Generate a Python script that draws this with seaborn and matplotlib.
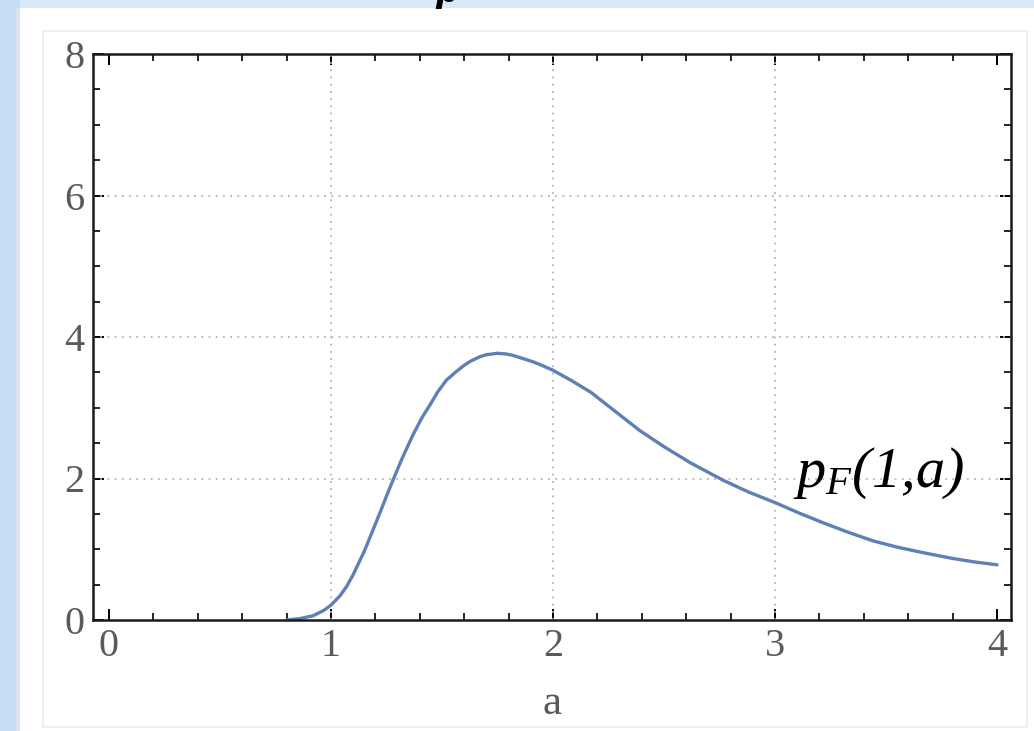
import numpy as np
import pandas as pd
import seaborn as sns
import matplotlib
matplotlib.use("Agg")
import matplotlib.pyplot as plt
from matplotlib.patches import Rectangle
from matplotlib.ticker import MultipleLocator

# ---- data ----
a_vals = [0.80, 0.86, 0.92, 0.97, 1.00, 1.04, 1.07, 1.10, 1.15, 1.18, 1.22, 1.25, 1.28,
          1.32, 1.37, 1.41, 1.45, 1.48, 1.52, 1.56, 1.60, 1.63, 1.67, 1.70, 1.75,
          1.79, 1.82, 1.86, 1.91, 1.95, 2.00, 2.08, 2.17, 2.28, 2.39, 2.50,
          2.62, 2.77, 2.88, 3.00, 3.11, 3.22, 3.33, 3.44, 3.55, 3.67, 3.80, 3.90, 4.00]
p_vals = [0.00, 0.02, 0.06, 0.14, 0.21, 0.34, 0.47, 0.64, 0.97, 1.20, 1.51, 1.75, 1.98,
          2.28, 2.62, 2.86, 3.06, 3.22, 3.39, 3.50, 3.60, 3.66, 3.72, 3.75, 3.77,
          3.76, 3.74, 3.70, 3.65, 3.60, 3.53, 3.39, 3.22, 2.95, 2.68, 2.45,
          2.22, 1.97, 1.81, 1.66, 1.51, 1.37, 1.24, 1.12, 1.03, 0.95, 0.87, 0.82, 0.78]
x_ticks = [0, 1, 2, 3, 4]
y_ticks = [0, 2, 4, 6, 8]
grid_x = [1, 2, 3]
grid_y = [2, 4, 6]
curve_label = r"$p_F(1{,}a)$"
x_label = "a"

df = pd.DataFrame({"a": a_vals, "p": p_vals})

sns.set_theme(style="white")
plt.rcParams["font.family"] = ["Liberation Serif", "DejaVu Serif"]
plt.rcParams["mathtext.fontset"] = "custom"
# only the curve label uses mathtext: render everything in it italic
plt.rcParams["mathtext.rm"] = "Liberation Serif:italic"
plt.rcParams["mathtext.it"] = "Liberation Serif:italic"
plt.rcParams["mathtext.bf"] = "Liberation Serif:bold"

W, H = 1034, 731
fig = plt.figure(figsize=(W / 100, H / 100), dpi=100)
fig.patch.set_facecolor("#d8e9f8")

def px_rect(x0, y0, x1, y1, **kw):
    # pixel coords with top-left origin -> figure fraction
    return Rectangle((x0 / W, 1 - y1 / H), (x1 - x0) / W, (y1 - y0) / H,
                     transform=fig.transFigure, **kw)

# decorative frame of the screenshot
fig.patches.append(px_rect(0, 0, 20, H, facecolor="#c6def6", edgecolor="none", zorder=-10))
fig.patches.append(px_rect(16, 8, 22, H, facecolor="#dde3ea", edgecolor="none", zorder=-10))
fig.patches.append(px_rect(20, 8, W, H, facecolor="white", edgecolor="none", zorder=-9))
fig.patches.append(px_rect(43, 31, 1027, 727, facecolor="none", edgecolor="#ececec",
                           linewidth=1.2, zorder=-8))
fig.text(435 / W, 1 - 9 / H, "p", fontsize=24, style="italic", fontweight="bold",
         va="bottom", ha="left", color="black", family="DejaVu Sans")

ax = fig.add_axes([92.7 / W, 1 - 620 / H, (1011 - 92.7) / W, (620 - 54) / H], zorder=5)
ax.set_facecolor("white")

for gx in grid_x:
    ax.axvline(gx, color="#b5b5b5", linestyle=(0, (1, 3)), linewidth=1.3, zorder=1)
for gy in grid_y:
    ax.axhline(gy, color="#b5b5b5", linestyle=(0, (1, 3)), linewidth=1.3, zorder=1)

sns.lineplot(data=df, x="a", y="p", ax=ax, color="#5e81b5", linewidth=2.4,
             estimator=None, sort=False, zorder=2)

ax.set_xlim(-0.073, 4.063)
ax.set_ylim(0, 8.0)
ax.set_xticks(x_ticks)
ax.set_yticks(y_ticks)
ax.xaxis.set_minor_locator(MultipleLocator(0.2))
ax.yaxis.set_minor_locator(MultipleLocator(0.5))
ax.tick_params(which="both", direction="in", top=True, right=True, bottom=True, left=True,
               colors="black", labelcolor="#5a5a5a")
ax.tick_params(which="major", length=8, width=1.4, labelsize=29, pad=6)
ax.tick_params(which="minor", length=5, width=1.2)
for s in ax.spines.values():
    s.set_visible(True)
    s.set_color("#1a1a1a")
    s.set_linewidth(1.8)

ax.set_xlabel(x_label, fontsize=31, color="#5a5a5a", labelpad=14)
ax.set_ylabel("")

ax.text(3.08, 1.88, curve_label, fontsize=42, color="black", ha="left", va="baseline")

fig.savefig("out.png", dpi=100, facecolor=fig.get_facecolor())
